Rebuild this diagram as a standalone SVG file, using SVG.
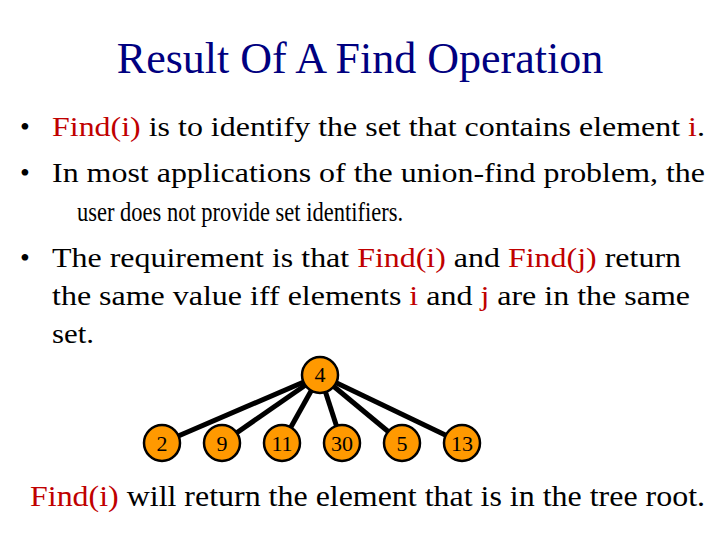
<svg xmlns="http://www.w3.org/2000/svg" width="720" height="540" viewBox="0 0 720 540">
<style>
text{font-family:"Liberation Serif",serif;fill:#000}
.t{font-size:28px}
.r{fill:#c00000}
.n circle{fill:#ff9900;stroke:#000;stroke-width:2.5}
.n text{font-size:22px;text-anchor:middle}
#edges line{stroke:#000;stroke-width:5}
</style>
<rect width="720" height="540" fill="#fff"/>
<text x="360" y="73" text-anchor="middle" style="fill:#000080;font-size:44px">Result Of A Find Operation</text>
<text x="20" y="136" class="t">•</text>
<text x="52" y="136" class="t" textLength="653" lengthAdjust="spacingAndGlyphs"><tspan class="r">Find(i)</tspan> is to identify the set that contains element <tspan class="r">i</tspan>.</text>
<text x="20" y="182" class="t">•</text>
<text x="52" y="182" class="t" textLength="653" lengthAdjust="spacingAndGlyphs">In most applications of the union-find problem, the</text>
<text x="77" y="221" class="t" textLength="326" lengthAdjust="spacingAndGlyphs">user does not provide set identifiers.</text>
<text x="20" y="267" class="t">•</text>
<text x="52" y="267" class="t" textLength="629" lengthAdjust="spacingAndGlyphs">The requirement is that <tspan class="r">Find(i)</tspan> and <tspan class="r">Find(j)</tspan> return</text>
<text x="52" y="305" class="t" textLength="638" lengthAdjust="spacingAndGlyphs">the same value iff elements <tspan class="r">i</tspan> and <tspan class="r">j</tspan> are in the same</text>
<text x="52" y="343" class="t" textLength="42" lengthAdjust="spacingAndGlyphs">set.</text>
<g id="edges">
<line x1="320" y1="375" x2="162" y2="443"/>
<line x1="320" y1="375" x2="222" y2="443"/>
<line x1="320" y1="375" x2="282" y2="443"/>
<line x1="320" y1="375" x2="342" y2="443"/>
<line x1="320" y1="375" x2="402" y2="443"/>
<line x1="320" y1="375" x2="462" y2="443"/>
</g>
<g id="n4" class="n"><circle cx="320" cy="375" r="18"/><text x="320" y="382">4</text></g>
<g id="n2" class="n"><circle cx="162" cy="443" r="18"/><text x="162" y="451">2</text></g>
<g id="n9" class="n"><circle cx="222" cy="443" r="18"/><text x="222" y="451">9</text></g>
<g id="n11" class="n"><circle cx="282" cy="443" r="18"/><text x="282" y="451">11</text></g>
<g id="n30" class="n"><circle cx="342" cy="443" r="18"/><text x="342" y="451">30</text></g>
<g id="n5" class="n"><circle cx="402" cy="443" r="18"/><text x="402" y="451">5</text></g>
<g id="n13" class="n"><circle cx="462" cy="443" r="18"/><text x="462" y="451">13</text></g>
<text x="30" y="506" textLength="675" lengthAdjust="spacingAndGlyphs" style="font-size:29px"><tspan class="r">Find(i)</tspan> will return the element that is in the tree root.</text>
</svg>
